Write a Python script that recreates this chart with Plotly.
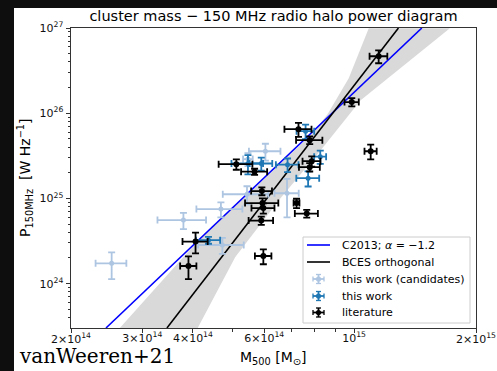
import math
import plotly.graph_objects as go

# ---- data (mass in 1e14 M_sun, power in 1e24 W/Hz) ----
lit_mass = [11.5, 9.87, 10.99, 7.29, 7.77, 5.12, 5.68, 7.86, 7.77, 5.92,
            5.94, 5.97, 5.90, 7.21, 7.64, 5.97, 4.06, 3.90]
lit_mass_err = [0.58, 0.40, 0.38, 0.56, 0.58, 0.49, 0.42, 0.40, 0.46, 0.35,
                0.56, 0.39, 0.41, 0.12, 0.50, 0.28, 0.29, 0.18]
lit_power = [466.0, 135.0, 35.8, 64.9, 48.3, 25.2, 20.6, 27.4, 23.3, 12.2,
             8.81, 7.70, 5.50, 8.81, 6.64, 2.11, 3.12, 1.61]
lit_power_err = [80.0, 15.0, 7.0, 12.0, 5.0, 3.5, 1.7, 3.8, 2.6, 1.3,
                 1.2, 1.05, 0.6, 1.1, 0.7, 0.42, 0.85, 0.48]

tw_mass = [7.59, 5.47, 5.90, 6.85, 8.25, 7.70, 4.37]
tw_mass_err = [0.38, 0.49, 0.38, 0.44, 0.28, 0.50, 0.30]
tw_power = [61.5, 25.7, 25.7, 24.9, 30.9, 17.3, 3.24]
tw_power_err = [12.0, 6.5, 4.5, 4.5, 5.5, 3.5, 0.3]

cand_mass = [2.52, 3.79, 4.69, 4.73, 5.44, 6.04, 6.83, 5.47]
cand_mass_err = [0.22, 0.52, 0.61, 0.61, 0.70, 0.54, 0.47, 0.15]
cand_power = [1.73, 5.57, 7.50, 2.84, 11.2, 35.8, 11.5, 29.0]
cand_power_err = [0.6, 1.2, 1.5, 0.6, 2.7, 8.0, 5.5, 5.0]

# scaling relations
c2013_mass = [2.44, 14.70]
c2013_power = [0.302, 1000.0]
bces_mass = [3.451, 12.87]
bces_power = [0.302, 1000.0]

# BCES confidence region: upper and lower envelopes
band_mass_hi = [2.64, 4.17, 5.55, 7.81, 8.60, 9.70, 10.87]
band_power_hi = [0.302, 3.42, 11.86, 55.2, 97.3, 257.2, 992.0]
band_mass_lo = [4.11, 5.09, 6.58, 8.27, 10.38, 17.24]
band_power_lo = [0.302, 2.05, 10.08, 36.84, 142.0, 992.0]

x_ticks = [2e14, 3e14, 4e14, 6e14, 1e15, 2e15]
x_ticktext = ["2×10<sup>14</sup>", "3×10<sup>14</sup>", "4×10<sup>14</sup>",
              "6×10<sup>14</sup>", "10<sup>15</sup>", "2×10<sup>15</sup>"]
y_ticks = [1e24, 1e25, 1e26, 1e27]
y_ticktext = ["10<sup>24</sup>", "10<sup>25</sup>", "10<sup>26</sup>", "10<sup>27</sup>"]

legend_labels = ["C2013; <i>α</i> = −1.2", "BCES orthogonal",
                 "this work (candidates)", "this work", "literature"]

MU = 1e14
PU = 1e24
FONT = "DejaVu Sans"

col_c2013 = "#0000ff"
col_bces = "#000000"
col_lit = "#000000"
col_tw = "#1f77b4"
col_cand = "#adc5e1"


def scale(vals, f):
    return [v * f for v in vals]


fig = go.Figure()

band_x = scale(band_mass_hi + band_mass_lo[::-1], MU)
band_y = scale(band_power_hi + band_power_lo[::-1], PU)
fig.add_trace(go.Scatter(x=band_x, y=band_y, fill="toself", mode="lines",
                         line=dict(width=0), fillcolor="#d9d9d9",
                         showlegend=False, hoverinfo="skip"))

fig.add_trace(go.Scatter(x=scale(c2013_mass, MU), y=scale(c2013_power, PU),
                         mode="lines", line=dict(color=col_c2013, width=1.6),
                         showlegend=False, name=legend_labels[0]))
fig.add_trace(go.Scatter(x=scale(bces_mass, MU), y=scale(bces_power, PU),
                         mode="lines", line=dict(color=col_bces, width=1.6),
                         showlegend=False, name=legend_labels[1]))


def err_points(mass, mass_err, power, power_err, color, name, msize):
    fig.add_trace(go.Scatter(
        x=scale(mass, MU), y=scale(power, PU), mode="markers",
        marker=dict(color=color, size=msize),
        error_x=dict(type="data", array=scale(mass_err, MU), color=color,
                     thickness=1.8, width=3.5),
        error_y=dict(type="data", array=scale(power_err, PU), color=color,
                     thickness=1.8, width=3.5),
        showlegend=False, name=name))


err_points(cand_mass, cand_mass_err, cand_power, cand_power_err, col_cand,
           legend_labels[2], 5)
err_points(tw_mass, tw_mass_err, tw_power, tw_power_err, col_tw, legend_labels[3], 5)
err_points(lit_mass, lit_mass_err, lit_power, lit_power_err, col_lit, legend_labels[4], 6)

y_minor = [m * 10.0 ** e for e in (23, 24, 25, 26) for m in range(2, 10)
           if 3e23 <= m * 10.0 ** e <= 1e27]
x_minor = [5e14, 7e14, 8e14, 9e14]

TICK_FONT = dict(family=FONT, size=11, color="#111111")
axis_common = dict(type="log", showgrid=False, zeroline=False, showline=True,
                   linecolor="#333333", linewidth=1, mirror=True,
                   ticks="outside", tickcolor="#333333", tickwidth=1,
                   tickfont=TICK_FONT)

# the two labels at the axis ends are placed as annotations so they stay
# centred on their ticks
inner_ticktext = [""] + x_ticktext[1:-1] + [""]
fig.update_xaxes(**axis_common, range=[math.log10(2e14), math.log10(2e15)],
                 tickmode="array", tickvals=x_ticks, ticktext=inner_ticktext,
                 ticklen=3.5, ticklabelstandoff=-4,
                 minor=dict(tickmode="array", tickvals=x_minor, ticklen=3,
                            tickcolor="#333333", ticks="outside", showgrid=False))
fig.update_yaxes(**axis_common, range=[23.4795, 27.0],
                 tickmode="array", tickvals=y_ticks, ticktext=y_ticktext,
                 ticklen=4.5,
                 minor=dict(tickmode="array", tickvals=y_minor, ticklen=2.5,
                            tickcolor="#333333", ticks="outside", showgrid=False))

W, H = 497, 371
ML, MR, MT, MB = 71, 21, 28, 43
pw, ph = W - ML - MR, H - MT - MB


def px(x):
    return (x - ML) / pw


def py(y):
    return (H - MB - y) / ph


def pline(x0, y0, x1, y1, color, width):
    return dict(type="line", xref="paper", yref="paper",
                x0=px(x0), y0=py(y0), x1=px(x1), y1=py(y1),
                line=dict(color=color, width=width))


shapes = [dict(type="rect", xref="paper", yref="paper", layer="below",
               x0=px(14), x1=px(W + 5), y0=py(H + 5), y1=py(8),
               fillcolor="white", line=dict(width=0))]

# legend frame
LX0, LX1, LY0, LY1 = 303, 470, 237, 323
shapes.append(dict(type="rect", xref="paper", yref="paper",
                   x0=px(LX0), x1=px(LX1), y0=py(LY1), y1=py(LY0),
                   fillcolor="rgba(255,255,255,0.85)",
                   line=dict(color="#cccccc", width=1)))

row_y = [245, 262, 279, 296, 312.5]
sym_x0, sym_x1 = 307, 330
text_x = 339.5

# legend line samples
for y, c in zip(row_y[:2], [col_c2013, col_bces]):
    shapes.append(pline(sym_x0, y, sym_x1, y, c, 1.6))

# legend error-bar glyphs
cx = (sym_x0 + sym_x1) / 2
for y, c in zip(row_y[2:], [col_cand, col_tw, col_lit]):
    hx, hy, cap = 5.5, 4.5, 2.5
    shapes.append(pline(cx - hx, y, cx + hx, y, c, 1.8))
    shapes.append(pline(cx, y - hy, cx, y + hy, c, 1.8))
    shapes.append(pline(cx - hx, y - cap, cx - hx, y + cap, c, 1.3))
    shapes.append(pline(cx + hx, y - cap, cx + hx, y + cap, c, 1.3))
    shapes.append(pline(cx - cap, y - hy, cx + cap, y - hy, c, 1.3))
    shapes.append(pline(cx - cap, y + hy, cx + cap, y + hy, c, 1.3))
    r = 2.6
    shapes.append(dict(type="circle", xref="paper", yref="paper",
                       x0=px(cx - r), x1=px(cx + r), y0=py(y + r), y1=py(y - r),
                       fillcolor=c, line=dict(width=0)))

annotations = [
    dict(text="P<sub>150MHz</sub>  [W Hz<sup>−1</sup>]", textangle=-90,
         xref="paper", yref="paper", x=px(25), y=py(178),
         xanchor="center", yanchor="middle", showarrow=False,
         font=dict(family=FONT, size=14, color="#000000")),
    dict(text="M<sub>500</sub> [M<sub>⊙</sub>]",
         xref="paper", yref="paper", x=px(273), y=py(358),
         xanchor="center", yanchor="middle", showarrow=False,
         font=dict(family=FONT, size=14, color="#000000")),
    dict(text="vanWeeren+21",
         xref="paper", yref="paper", x=px(17), y=py(356),
         xanchor="left", yanchor="middle", showarrow=False,
         font=dict(family="DejaVu Serif", size=20, color="#000000")),
]
for xv, lab in ((x_ticks[0], x_ticktext[0]), (x_ticks[-1], x_ticktext[-1])):
    annotations.append(dict(text=lab, xref="x", yref="paper",
                            x=math.log10(xv), y=py(338), xanchor="center",
                            yanchor="middle", showarrow=False,
                            font=TICK_FONT))
for y, lab in zip(row_y, legend_labels):
    annotations.append(dict(text=lab, xref="paper", yref="paper",
                            x=px(text_x), y=py(y), xanchor="left",
                            yanchor="middle", showarrow=False,
                            font=dict(family=FONT, size=11, color="#000000")))

fig.update_layout(
    width=W, height=H,
    margin=dict(l=ML, r=MR, t=MT, b=MB, pad=0),
    paper_bgcolor="#0e0e0e", plot_bgcolor="white",
    font=dict(family=FONT, color="#000000"),
    showlegend=False,
    title=dict(text="cluster mass − 150 MHz radio halo power diagram",
               font=dict(family=FONT, size=14.5, color="#000000"),
               x=0.5, xref="paper", xanchor="center",
               y=1 - 16 / H, yref="container", yanchor="middle"),
    shapes=shapes,
    annotations=annotations,
)

fig.write_html("out.html")
